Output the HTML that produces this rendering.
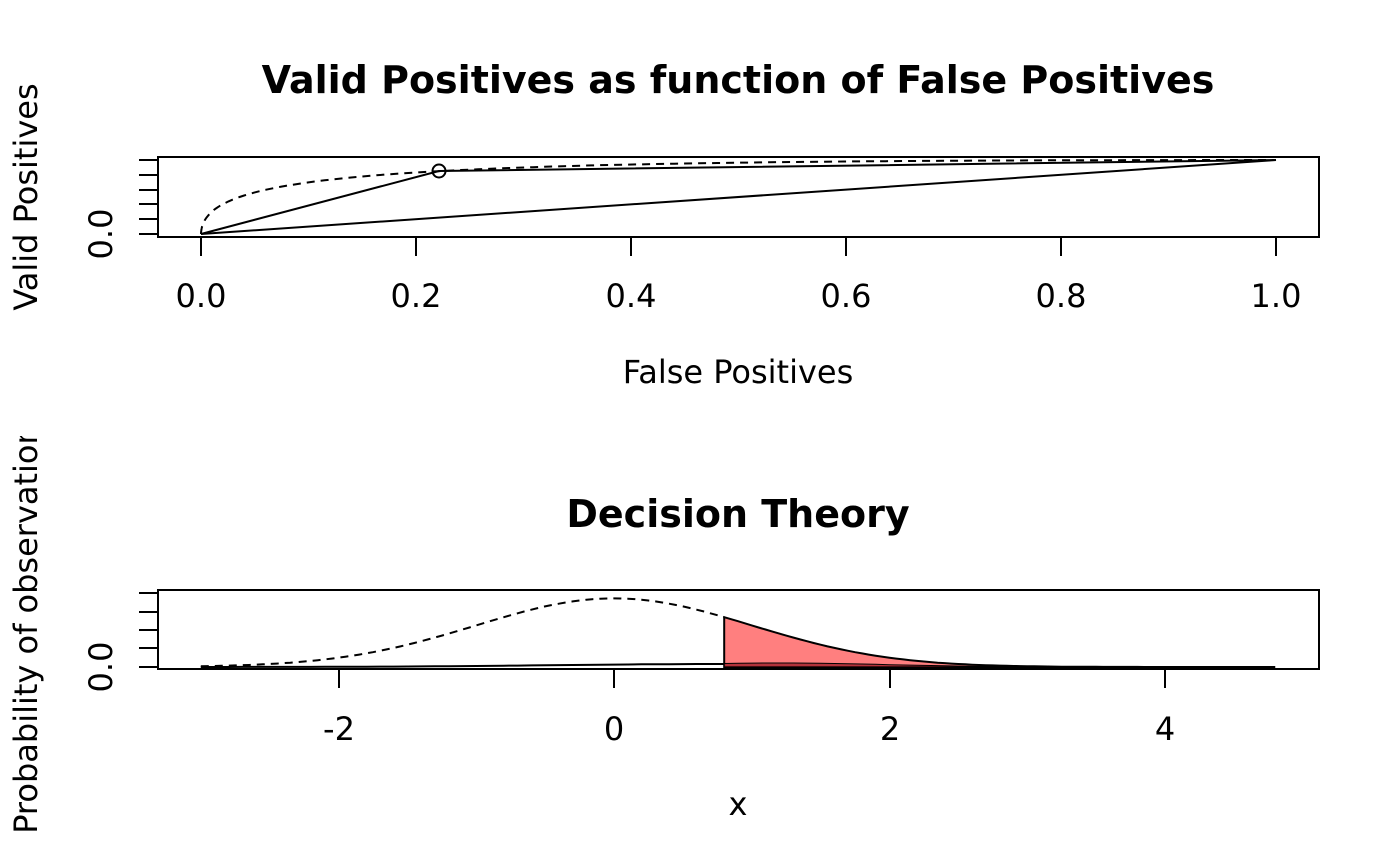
<!DOCTYPE html>
<html><head><meta charset="utf-8"><style>body{margin:0;background:#fff}svg{display:block;font-family:"DejaVu Sans","Liberation Sans",sans-serif}</style></head>
<body>
<svg id="s" width="1400" height="866" viewBox="0 0 1400 866">
<defs><clipPath id="c2"><rect x="0" y="436" width="1400" height="430"/></clipPath></defs>
<text x="738" y="93" font-size="38" font-weight="bold" text-anchor="middle">Valid Positives as function of False Positives</text>
<rect x="158" y="157" width="1161" height="80" fill="none" stroke="#000" stroke-width="2"/>
<g stroke="#000" stroke-width="2">
<line x1="201" y1="237" x2="201" y2="256"/><line x1="416" y1="237" x2="416" y2="256"/><line x1="631" y1="237" x2="631" y2="256"/><line x1="846" y1="237" x2="846" y2="256"/><line x1="1061" y1="237" x2="1061" y2="256"/><line x1="1276" y1="237" x2="1276" y2="256"/>
<line x1="139" y1="234" x2="158" y2="234"/><line x1="139" y1="219" x2="158" y2="219"/><line x1="139" y1="204" x2="158" y2="204"/><line x1="139" y1="190" x2="158" y2="190"/><line x1="139" y1="175" x2="158" y2="175"/><line x1="139" y1="160" x2="158" y2="160"/>
</g>
<g font-size="32" text-anchor="middle">
<text x="201" y="307">0.0</text><text x="416" y="307">0.2</text><text x="631" y="307">0.4</text><text x="846" y="307">0.6</text><text x="1061" y="307">0.8</text><text x="1276" y="307">1.0</text>
<text x="738" y="383">False Positives</text>
<text transform="translate(112,234) rotate(-90)">0.0</text>
<text transform="translate(37,197) rotate(-90)">Valid Positives</text>
</g>
<g fill="none" stroke="#000" stroke-width="2">
<path d="M201,234 L1276,160"/>
<path d="M201,234 L439,171 L1276,160"/>
<path id="roc" stroke-dasharray="8,6"/>
<circle cx="439" cy="171" r="6.5"/>
</g>
<text x="738" y="527" font-size="38" font-weight="bold" text-anchor="middle">Decision Theory</text>
<rect x="158" y="590" width="1161" height="79" fill="none" stroke="#000" stroke-width="2"/>
<g stroke="#000" stroke-width="2">
<line x1="339" y1="669" x2="339" y2="688"/><line x1="614" y1="669" x2="614" y2="688"/><line x1="890" y1="669" x2="890" y2="688"/><line x1="1165" y1="669" x2="1165" y2="688"/>
<line x1="139" y1="667" x2="158" y2="667"/><line x1="139" y1="648" x2="158" y2="648"/><line x1="139" y1="630" x2="158" y2="630"/><line x1="139" y1="612" x2="158" y2="612"/><line x1="139" y1="593" x2="158" y2="593"/>
</g>
<g font-size="32" text-anchor="middle">
<text x="339" y="740">-2</text><text x="614" y="740">0</text><text x="890" y="740">2</text><text x="1165" y="740">4</text>
<text x="738" y="815">x</text>
<text transform="translate(112,667) rotate(-90)">0.0</text>
<g clip-path="url(#c2)"><text transform="translate(37,629) rotate(-90)">Probability of observation</text></g>
</g>
<path id="red" fill="#ff7f7f" stroke="#000" stroke-width="2"/>
<path id="dred" fill="#a0202a" fill-opacity="0.8" stroke="#000" stroke-width="1"/>
<g fill="none" stroke="#000" stroke-width="2">
<path id="dash" stroke-dasharray="8,6"/>
<path id="low"/>
</g>
</svg>
<script>
function erf(x){var s=x<0?-1:1;x=Math.abs(x);var t=1/(1+0.3275911*x);var y=1-(((((1.061405429*t-1.453152027)*t)+1.421413741)*t-0.284496736)*t+0.254829592)*t*Math.exp(-x*x);return s*y;}
function P(x){return 0.5*(1+erf(x/Math.SQRT2));}
function d(x){return Math.exp(-x*x/2)/Math.sqrt(2*Math.PI);}
var p=[];for(var t=6;t>=-6;t-=0.05){var f=1-P(t),h=1-P(t-1.8);p.push((201+1075*f).toFixed(1)+","+(234-74*h).toFixed(1));}
document.getElementById("roc").setAttribute("d","M"+p.join(" L"));
function X(x){return 614+137.75*x;}function Y(v){return 667-172*v;}
var a=[];for(var x=-3;x<=0.8001;x+=0.05)a.push(X(x).toFixed(1)+","+Y(d(x)).toFixed(1));
document.getElementById("dash").setAttribute("d","M"+a.join(" L"));
var r=["M"+X(0.8)+","+Y(0)];for(var x=0.8;x<=4.8001;x+=0.05)r.push(X(x).toFixed(1)+","+Y(d(x)).toFixed(1));r.push(X(4.8)+","+Y(0));
document.getElementById("red").setAttribute("d",r.join(" L")+"Z");
var l=[];for(var x=-3;x<=0.8001;x+=0.1)l.push(X(x).toFixed(1)+","+(667-3*Math.exp(-(x-0.8)*(x-0.8)/3)).toFixed(1));
document.getElementById("low").setAttribute("d","M"+l.join(" L"));
var q=["M"+X(0.8)+","+Y(0)];for(var x=0.8;x<=4.8001;x+=0.1)q.push(X(x).toFixed(1)+","+(667-Math.min(4,4*Math.exp(-(x-1.2)*(x-1.2)/1.2))).toFixed(1));q.push(X(4.8)+","+Y(0));
document.getElementById("dred").setAttribute("d",q.join(" L")+"Z");
</script>
</body></html>
